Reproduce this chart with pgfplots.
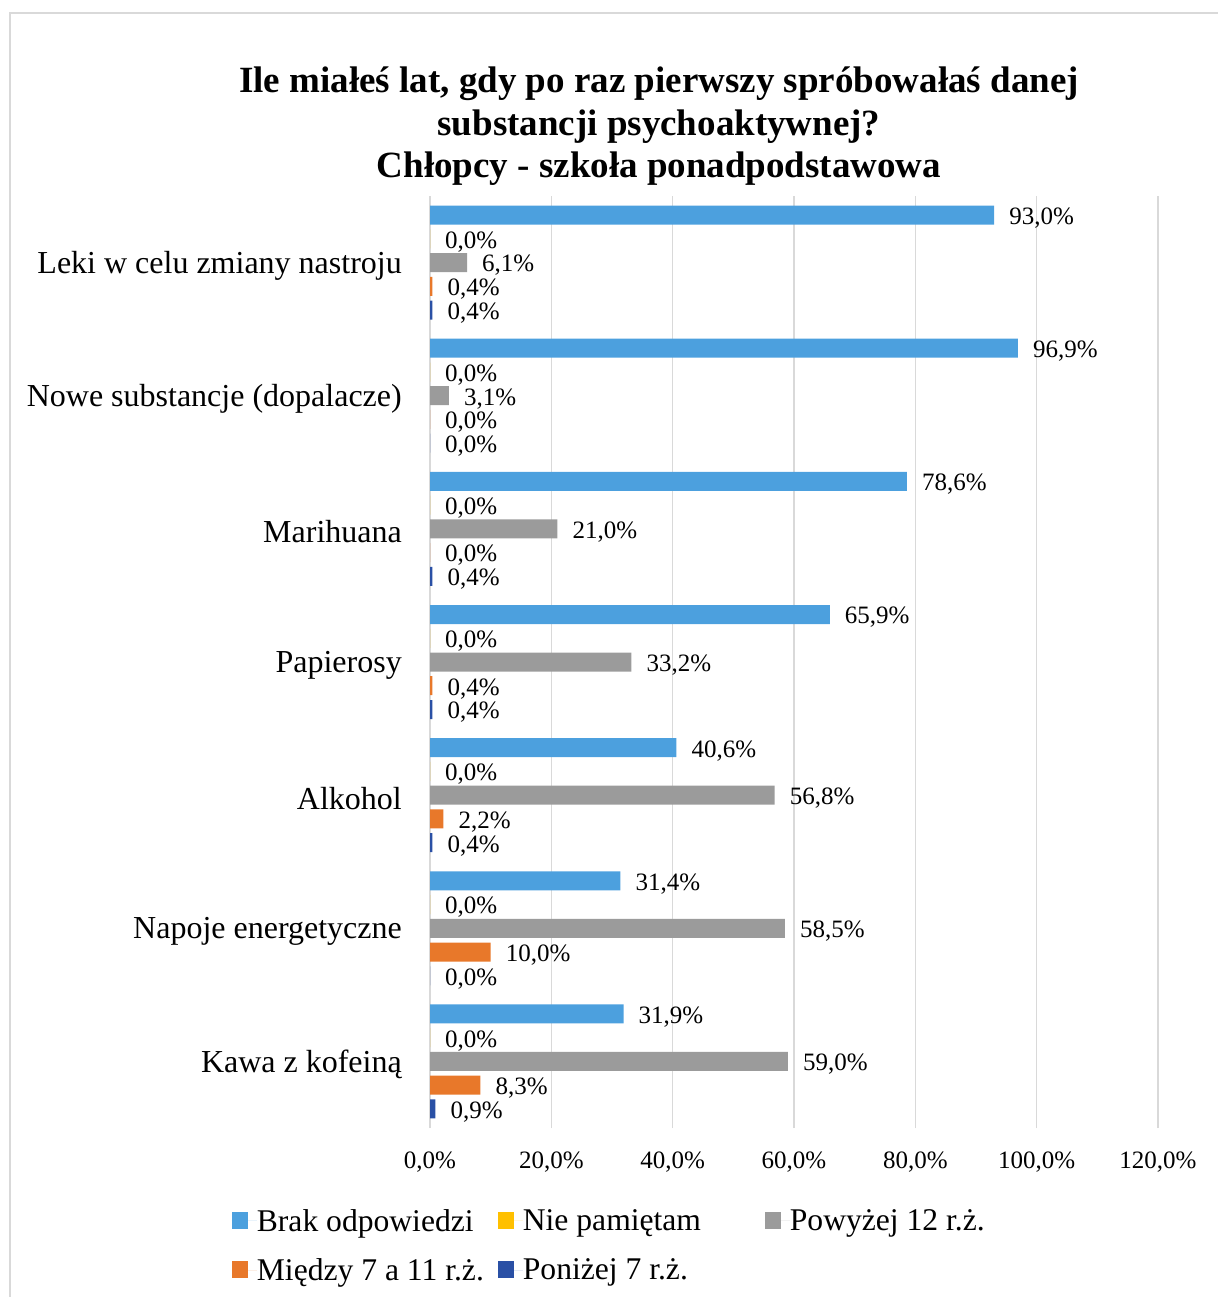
\documentclass[border=0pt]{standalone}
\usepackage{fontspec}
\setmainfont{Liberation Serif}
\usepackage{pgfplots}
\usepackage{pgfplotstable}
\pgfplotsset{compat=1.18}

\definecolor{gridc}{RGB}{217,217,217}
\definecolor{brakM}{RGB}{76,160,222}
\definecolor{nieM}{RGB}{255,192,0}
\definecolor{powM}{RGB}{155,155,155}
\definecolor{midM}{RGB}{232,120,42}
\definecolor{ponM}{RGB}{42,80,165}

\pgfplotstableread{
y brak nie pow miedzy ponizej
0 31.9 0 59.0 8.3 0.9
1 31.4 0 58.5 10.0 0.0
2 40.6 0 56.8 2.2 0.4
3 65.9 0 33.2 0.4 0.4
4 78.6 0 21.0 0.0 0.4
5 96.9 0 3.1 0.0 0.0
6 93.0 0 6.1 0.4 0.4
}\datatable

\begin{document}
\begin{tikzpicture}
\path[use as bounding box] (0,0) rectangle (1218bp,-1297bp);
\draw[gridc, line width=1.5bp] (10bp,-1297bp) -- (10bp,-13bp) -- (1218bp,-13bp);

\node[anchor=base, font=\bfseries\fontsize{37bp}{42bp}\selectfont, inner sep=0pt] at (659bp,-92bp) {Ile miałeś lat, gdy po raz pierwszy spróbowałaś danej};
\node[anchor=base, font=\bfseries\fontsize{37bp}{42bp}\selectfont, inner sep=0pt] at (659bp,-135bp) {substancji psychoaktywnej?};
\node[anchor=base, font=\bfseries\fontsize{37bp}{42bp}\selectfont, inner sep=0pt] at (659bp,-177bp) {Chłopcy - szkoła ponadpodstawowa};

\begin{axis}[
  at={(430bp,-1128bp)}, anchor=south west,
  scale only axis, width=728bp, height=932bp,
  xbar, bar width=19bp,
  xmin=0, xmax=120, ymin=-0.5, ymax=6.5,
  enlargelimits=false, clip=false,
  axis line style={draw=none},
  major tick length=0pt,
  xmajorgrids, major grid style={gridc, line width=1.3bp},
  xtick={0,20,...,120},
  xticklabel={\pgfmathprintnumber[fixed,fixed zerofill,precision=1,use comma,assume math mode=true]{\tick}\%},
  xticklabel style={font=\fontsize{25bp}{30bp}\selectfont, inner sep=0pt, anchor=north, yshift=-24bp},
  ytick={0,...,6},
  yticklabels={Kawa z kofeiną, Napoje energetyczne, Alkohol, Papierosy, Marihuana, Nowe substancje (dopalacze), Leki w celu zmiany nastroju},
  yticklabel style={font=\fontsize{32bp}{36bp}\selectfont, inner sep=0pt, anchor=east, xshift=-28bp, yshift=-3bp},
  point meta=x,
  nodes near coords={\pgfmathprintnumber[fixed,fixed zerofill,precision=1,use comma,assume math mode=true]{\pgfplotspointmeta}\%},
  nodes near coords style={font=\fontsize{25bp}{30bp}\selectfont, anchor=west, inner sep=0pt, xshift=15bp, yshift=-3bp, text=black},
  legend columns=3,
  legend cell align=left,
  legend style={draw=none, fill=none, at={(axis description cs:-0.2765,-0.0847)}, anchor=north west,
    font=\fontsize{31.6bp}{36bp}\selectfont,
    nodes={inner sep=0pt},
    /tikz/every even column/.append style={column sep=0pt},
    row sep=26bp},
  legend image code/.code={\path[#1] (0bp,-8bp) rectangle (16bp,9bp); \path (0bp,0bp) -- (25bp,0bp);},
]
\addplot[draw=none, fill=brakM, bar shift=47.5bp] table[x=brak,y=y]{\datatable};
\addlegendentry{\makebox[241bp][l]{Brak odpowiedzi}}
\addplot[draw=none, fill=nieM, bar shift=23.7bp] table[x=nie,y=y]{\datatable};
\addlegendentry{\makebox[242bp][l]{Nie pamiętam}}
\addplot[draw=none, fill=powM, bar shift=0bp] table[x=pow,y=y]{\datatable};
\addlegendentry{Powyżej 12 r.ż.}
\addplot[draw=none, fill=midM, bar shift=-23.7bp] table[x=miedzy,y=y]{\datatable};
\addlegendentry{\makebox[241bp][l]{Między 7 a 11 r.ż.}}
\addplot[draw=none, fill=ponM, bar shift=-47.5bp] table[x=ponizej,y=y]{\datatable};
\addlegendentry{\makebox[242bp][l]{Poniżej 7 r.ż.}}
\end{axis}
\end{tikzpicture}
\end{document}
